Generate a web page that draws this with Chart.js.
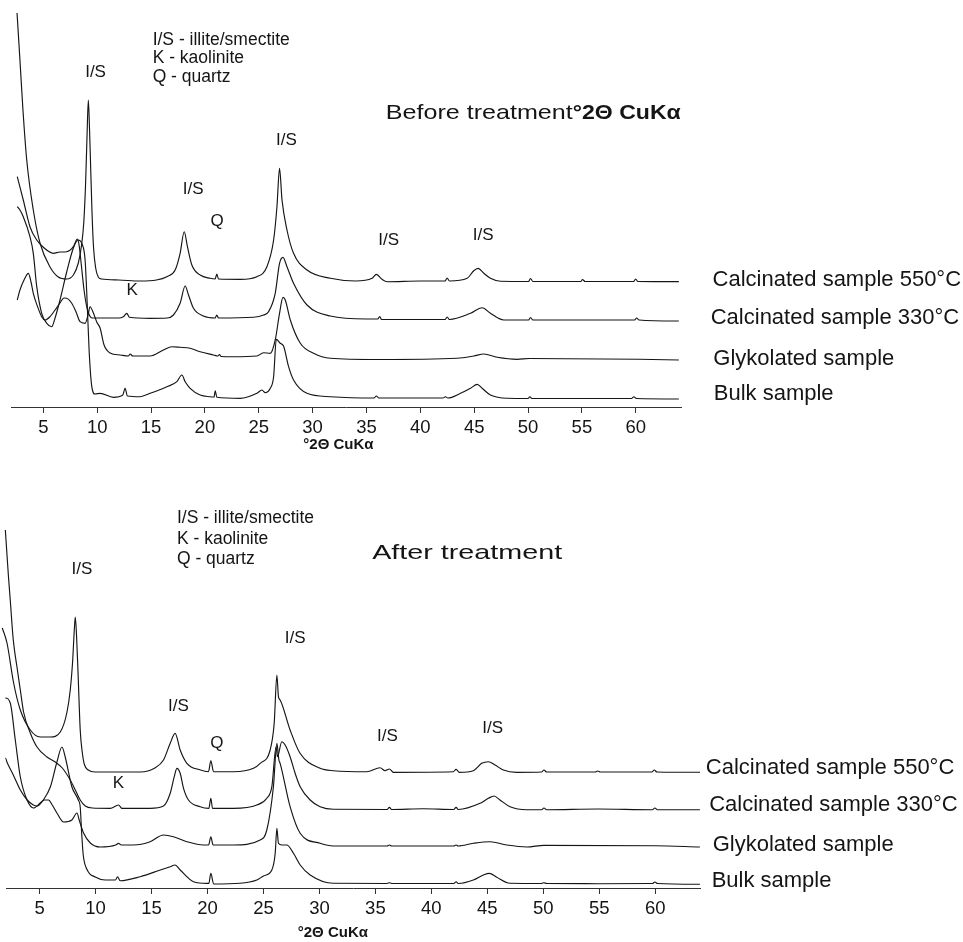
<!DOCTYPE html>
<html><head><meta charset="utf-8">
<script src="https://cdn.jsdelivr.net/npm/chart.js@4.4.1/dist/chart.umd.min.js"></script>
<style>
html,body{margin:0;padding:0;background:#fff;}
#wrap{position:relative;width:963px;height:942px;overflow:hidden;background:#fff;}
.box{position:absolute;left:0;width:963px;}
</style></head><body>
<div id="wrap">
<div class="box" style="top:0;height:460px"><canvas id="c1" width="963" height="460"></canvas></div>
<div class="box" style="top:460px;height:482px"><canvas id="c2" width="963" height="482"></canvas></div>
</div>
<script>
// ---------- DATA (°2θ vs. offset intensity) ----------
const tickValues = [5,10,15,20,25,30,35,40,45,50,55,60];
const seriesNames = ['Calcinated sample 550°C','Calcinated sample 330°C','Glykolated sample','Bulk sample'];

// Before treatment
const top550X = [2.56,2.83,3.11,3.46,4.07,4.69,5.62,6.39,7.17,7.79,8.25,8.55,8.76,8.92,9.05,9.18,9.29,9.40,9.52,9.66,9.86,10.1,10.4,12,14,15.5,16.47,17.24,17.70,18.08,18.38,18.79,19.56,20.49,20.95,21.11,21.26,23.28,24.83,25.76,26.38,26.69,26.93,27.16,27.62,28.23,29.48,31.65,34,35.52,35.92,36.45,36.91,40,42.3,42.49,42.7,44.35,44.96,45.37,45.89,46.51,47.44,50.05,50.23,50.45,54.9,55.05,55.3,59.8,59.99,60.2,64.0];
const top550Y = [394,347,297,247,197,164,140,130,128,132,144,162,185,222,268,307,278,238,195,160,139,130,128,127,126,127,130.3,137,153.7,175.3,160.3,142,132,128.7,128,133,128,127.7,130.3,140.3,167,200.3,238.7,207,177,153.7,137,128.7,126,128.7,132.7,127.7,125.3,126,126,129,126,128.7,136.3,138.7,133.7,128.7,125.7,125.5,128.5,125.5,125.5,127.5,125.5,125.5,128,125.5,125.3];

const top330X = [2.58,3.14,3.76,4.39,5.0,5.93,6.55,7.17,7.79,8.16,8.32,8.5,8.78,9.06,9.53,10.27,12.0,12.43,12.75,12.99,14.92,16.5,17.08,17.70,18.17,18.48,18.94,19.87,20.95,21.11,21.26,24.52,25.45,25.91,26.53,26.93,27.25,27.62,28.23,29.48,31.65,35,36.05,36.23,36.4,42.3,42.49,42.7,44.66,45.74,46.51,47.75,50.05,50.23,50.45,59.9,60.08,60.3,64.0];
const top330Y = [230.3,207,180.3,167,159.7,153.7,155,155.3,160.3,168,162,145,117,99,89,89,89,90.3,93.7,89.7,88.7,89,92,103.7,121,112,98.7,91,89,92,89,89.7,92,95.3,113.7,143.7,149.7,140.3,123.7,102,91,88,88,90.5,87.5,87.5,90,87.5,93.7,99.3,93.7,87,87,89.5,87,87,89,87,86];

const topGlyX = [2.58,2.83,3.21,3.61,3.86,4.07,4.41,4.85,5.16,5.62,6.09,6.55,6.92,7.17,7.64,8.04,8.41,8.88,9.15,9.34,9.65,9.96,10.27,10.64,11.20,12.13,12.9,13.06,13.3,14.92,16.15,16.93,17.70,18.63,19.56,20.80,21.2,21.36,21.5,22.66,24.83,25.45,26.07,26.53,26.93,27.25,27.46,27.93,28.86,30.09,31.65,36,43.42,44.96,45.89,47.14,48.99,50.1,60.3,64.0];
const topGlyY = [107,117,127,133.7,125,113.7,102,90.3,87,90.3,97,104,109,108.7,103.7,95,85.3,83.7,92,100.3,94,85,79,62,54,52,51,53,51,51,57,60.3,59.7,58.7,55.3,52,51,52.5,50.5,50.3,51,54.3,53.7,67,93.7,109.7,107,87,63.7,53.7,48.7,47.5,48.7,51,53,49.7,47.7,48.5,47.7,47];

const topBulkX = [2.58,2.83,3.14,3.76,4.07,4.39,4.85,5.32,5.78,6.09,6.55,7.17,7.79,8.22,8.60,8.88,9.06,9.25,9.50,9.80,10.27,11.51,12.38,12.59,12.81,13.99,14.92,16.47,17.40,17.86,18.17,18.63,19.56,20.49,20.85,20.96,21.11,23.28,24.83,25.30,25.60,26.07,26.38,26.63,27.0,27.30,27.77,28.23,29.48,31.65,35.7,35.92,36.15,42.1,42.33,42.55,43.73,44.66,45.28,45.74,46.51,48.07,50.0,50.17,50.35,59.6,59.83,60.05,64.0];
const topBulkY = [200.3,197,190.3,170.3,153.7,120.3,93.7,83.7,80.3,89,107,135,159,167,163,147,107,57,20.3,13,13.7,9.7,12,18.7,11,10.3,13.7,20.3,25.3,32,25.3,18.7,12,10.3,10,16.3,9.7,8.7,13.7,17,14.3,18.7,30.3,67.7,63.7,61,40.3,27,13.7,10.3,9,11,9,9,10.3,9,13.7,18.7,22.7,18.7,12,8.7,8.5,10.3,8.5,8.5,10.3,8.5,8];

// After treatment
const bot550X = [1.67,2.09,2.68,3.28,4.17,5.06,5.96,6.85,7.45,7.74,7.96,8.10,8.19,8.30,8.46,8.63,8.81,8.99,9.35,9.97,12,14.0,15.3,16.07,16.67,17.11,17.56,18.16,19.38,20.09,20.30,20.54,22.32,24.11,24.71,25.60,25.96,26.20,26.34,26.49,27.38,28.27,30.06,31.25,34.23,35.42,35.87,36.25,36.61,41.96,42.21,42.5,43.75,44.5,45.09,45.69,46.43,47.63,49.85,50.06,50.3,54.65,54.86,55.1,59.7,59.91,60.15,63.99];
const bot550Y = [260,245,205,178,158,151,151,156,176,198,228,258,271,253,208,158,136,124,118,116,116,116,120,128,144.7,154.7,138,124.7,118,116.3,127.3,116.3,116.3,119.7,124.7,138,164.7,213,191.3,188,158,134.7,119.7,117.3,116.3,120.3,117.3,119,115.7,116.3,118.7,115.7,117.3,124.7,126.3,123,118,115.7,116,118,116,116,117,116,116,118,116,115.7];

const bot330X = [1.67,1.94,2.21,2.38,2.65,2.98,3.28,3.57,4.17,4.77,5.66,6.40,7.03,7.74,8.28,8.63,9.08,9.71,11.31,12.05,12.35,14.88,16.07,16.67,17.03,17.27,17.56,17.86,18.30,19.35,20.12,20.30,20.45,22.32,24.41,25.30,25.75,26.13,26.25,26.64,26.94,27.38,27.83,28.28,29.17,30.06,31.25,36.05,36.25,36.45,39.29,42.0,42.21,42.4,44.35,45.09,45.60,46.13,47.03,48.52,49.85,50.06,50.3,54.86,59.75,59.97,60.2,63.99];
const bot330Y = [411,358,313,288,248,221,198,176,155,141,131,126,120,108,96,88,82,80,79.7,83,79.7,79.7,82,94.7,111.3,119.7,114.7,99.7,88,81.3,79.7,89.7,79.7,79.7,83,89.7,101.3,141.3,131.3,146.3,143,131.3,114.7,101.3,88,81.3,78.7,78.5,80.7,78.5,79.3,78.5,80.7,78.5,84.7,89.7,92,88,81.3,78.3,78.3,80,78.3,79,78.3,80,78.3,78.3];

const botGlyX = [1.67,1.94,2.38,2.83,3.28,3.88,4.46,5.06,5.42,5.80,6.13,6.55,7.14,7.89,8.34,8.54,8.93,9.53,10.42,11.8,12.05,12.3,13.4,14.88,16.07,16.96,18.16,19.64,20.1,20.30,20.5,22.32,24.71,25.30,25.89,26.20,26.38,26.49,27.38,28.28,30.06,31.25,36.05,36.25,36.45,42.0,42.21,42.4,43.75,45.24,46.73,48.52,50.06,59.97,63.99];
const botGlyY = [188,190,185,148,111,88,80,85,88,88,83,75,66,68,75,68,55,45,41,43,44.7,43,43,46.3,53,51.3,46.3,43,43,51.3,43,43,48,58,101.3,144.7,128,124.7,81.3,54.7,44.7,42,42,43,42,42,43,42,44.7,46.3,43,41,42.7,42.3,41];

const botBulkX = [1.67,1.94,2.12,2.65,3.28,3.90,4.44,4.79,5.33,5.96,6.55,7.0,7.29,7.89,8.46,8.63,8.77,8.90,9.26,9.97,10.87,11.78,11.96,12.2,13.99,15.78,16.67,17.11,17.56,18.75,19.95,20.12,20.30,20.55,22.9,24.41,25.0,25.75,26.05,26.20,26.34,26.64,27.09,27.68,28.28,29.17,31.25,36.05,36.25,36.45,42.0,42.21,42.4,43.75,44.64,45.18,45.84,47.03,49.85,50.06,50.3,54.86,59.75,59.97,60.2,63.99];
const botBulkY = [128,130,125,113,98,88,83,82,88,101,126,141,131,101,88,81,53,33,18,11,8,8,11.3,7.3,11.3,18,21.3,23,18,6.3,4.7,4.7,14.7,4,4.7,8,12,18,34.7,59.7,44.7,43,43,34.7,23,13,4.7,4.5,5.3,4.5,4.5,6.3,4.5,8,13,14.7,10.7,4.7,4.5,5.3,4.5,4.3,4.5,6,4.5,3.7];

// ---------- helpers ----------
const FONT = '"Liberation Sans", Arial, Helvetica, sans-serif';
const INK = '#151515';
function pts(xs, ys){ return xs.map((x,i)=>({x:x, y:ys[i]})); }
function ds(xs, ys){
  return {data: pts(xs, ys), borderColor: INK, borderWidth: 1.15, pointRadius: 0,
          fill: false, cubicInterpolationMode: 'monotone', clip: false};
}
function drawText(ctx, it, px, py){
  ctx.save();
  ctx.font = (it.bold ? 'bold ' : '') + it.size + 'px ' + FONT;
  ctx.fillStyle = INK;
  ctx.textBaseline = 'middle';
  ctx.textAlign = 'left';
  const w = ctx.measureText(it.t).width;
  const sx = it.w ? it.w / w : (it.sx || 1);
  let left = px;
  if (it.align === 'center') left = px - w * sx / 2;
  ctx.translate(left, py);
  ctx.scale(sx, 1);
  ctx.fillText(it.t, 0, 0);
  ctx.restore();
}
const annotPlugin = {
  id: 'annot',
  afterDraw(chart, args, opts){
    const ctx = chart.ctx, xs = chart.scales.x, ys = chart.scales.y;
    (opts.items || []).forEach(it => {
      drawText(ctx, it, xs.getPixelForValue(it.x), ys.getPixelForValue(it.y));
    });
  }
};
function makeChart(id, datasets, xMax, yMax, axisH, padL, padR, items){
  return new Chart(document.getElementById(id), {
    type: 'line',
    data: {datasets: datasets},
    options: {
      responsive: false, animation: false,
      layout: {padding: {left: padL, right: padR, top: 0, bottom: 0}},
      plugins: {legend: {display: false}, tooltip: {enabled: false}, annot: {items: items}},
      scales: {
        x: {type: 'linear', min: 2, max: xMax,
            afterBuildTicks: s => { s.ticks = tickValues.map(v => ({value: v})); },
            afterFit: s => { s.height = axisH; },
            ticks: {font: {family: FONT, size: 18.5}, color: INK, padding: 4, maxRotation: 0,
                    autoSkip: false, callback: v => String(v)},
            grid: {display: true, drawOnChartArea: false, drawTicks: true, tickLength: 6,
                   color: '#333', lineWidth: 1},
            border: {display: true, color: '#333', width: 1}},
        y: {display: false, min: 0, max: yMax}
      }
    },
    plugins: [annotPlugin]
  });
}

// ---------- annotations ----------
const topItems = [
  {t:'I/S', x:9.85, y:334.5, size:17, align:'center'},
  {t:'I/S - illite/smectite', x:15.15, y:367, size:17.5},
  {t:'K - kaolinite', x:15.15, y:348.5, size:17.5},
  {t:'Q - quartz', x:15.15, y:330, size:17.5},
  {t:'Before treatment', x:36.79, y:294, size:21, w:187},
  {t:'°2Θ CuKα', x:54.15, y:294, size:21, bold:true, w:108},
  {t:'I/S', x:27.56, y:267, size:17, align:'center'},
  {t:'I/S', x:18.91, y:218, size:17, align:'center'},
  {t:'Q', x:21.14, y:186, size:17, align:'center'},
  {t:'K', x:13.24, y:117, size:17, align:'center'},
  {t:'I/S', x:37.06, y:167, size:17, align:'center'},
  {t:'I/S', x:45.84, y:172, size:17, align:'center'},
  {t:seriesNames[0], x:67.13, y:127, size:22},
  {t:seriesNames[1], x:66.96, y:89, size:22},
  {t:seriesNames[2], x:67.2, y:48, size:22},
  {t:seriesNames[3], x:67.24, y:13, size:22},
  {t:'°2Θ CuKα', x:32.4, y:-38, size:15, bold:true, align:'center'}
];
const botItems = [
  {t:'I/S - illite/smectite', x:17.27, y:369.7, size:17.5},
  {t:'K - kaolinite', x:17.27, y:349, size:17.5},
  {t:'Q - quartz', x:17.27, y:329, size:17.5},
  {t:'I/S', x:8.79, y:318.7, size:17, align:'center'},
  {t:'After treatment', x:34.71, y:335, size:21, w:190},
  {t:'I/S', x:27.83, y:249.7, size:17, align:'center'},
  {t:'I/S', x:17.41, y:182, size:17, align:'center'},
  {t:'Q', x:20.84, y:144.7, size:17, align:'center'},
  {t:'K', x:12.05, y:104.7, size:17, align:'center'},
  {t:'I/S', x:36.07, y:152, size:17, align:'center'},
  {t:'I/S', x:45.48, y:159.7, size:17, align:'center'},
  {t:seriesNames[0], x:64.52, y:119.7, size:22},
  {t:seriesNames[1], x:64.82, y:83, size:22},
  {t:seriesNames[2], x:65.13, y:43, size:22},
  {t:seriesNames[3], x:65.04, y:7.3, size:22},
  {t:'°2Θ CuKα', x:31.2, y:-45, size:15, bold:true, align:'center'}
];

makeChart('c1', [ds(top550X, top550Y), ds(top330X, top330Y), ds(topGlyX, topGlyY), ds(topBulkX, topBulkY)],
          64.2, 407, 53, 11, 963 - 681, topItems);
makeChart('c2', [ds(bot550X, bot550Y), ds(bot330X, bot330Y), ds(botGlyX, botGlyY), ds(botBulkX, botBulkY)],
          64, 428, 54, 6, 963 - 700, botItems);
</script>
</body></html>
